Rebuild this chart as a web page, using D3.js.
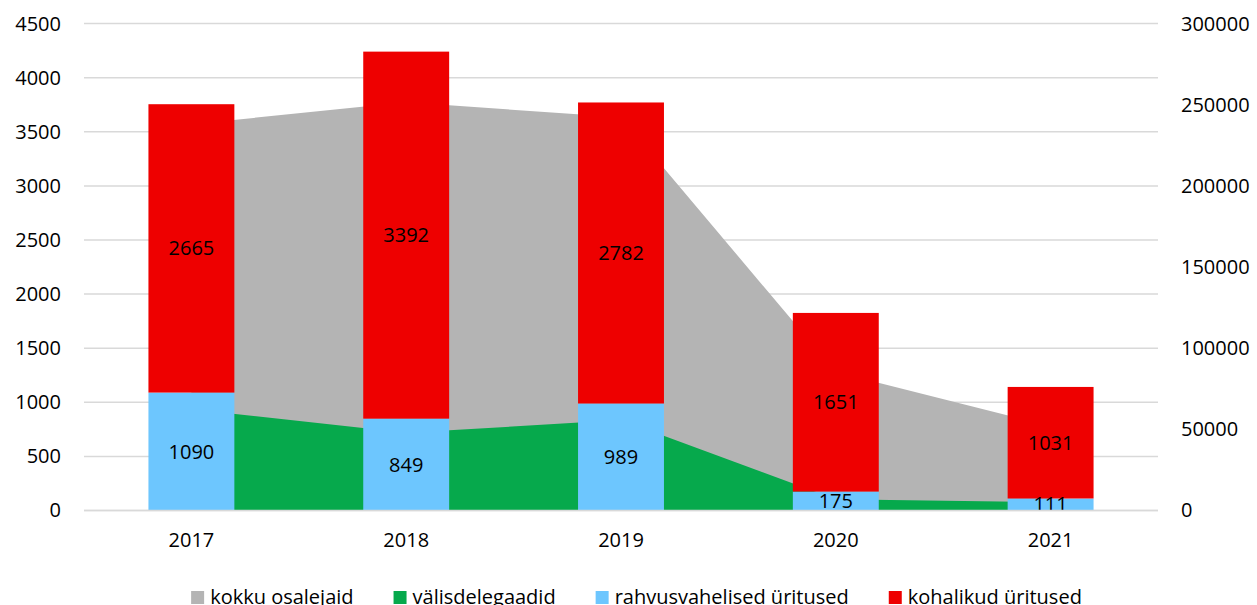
<!DOCTYPE html>
<html>
<head>
<meta charset="utf-8">
<script src="https://cdn.jsdelivr.net/npm/d3@7"></script>
<style>
  body { margin: 0; background: #fff; }
  text { font-family: "Open Sans", Lato, sans-serif; fill: #000; }
</style>
</head>
<body>
<script>
// data
var years = ["2017", "2018", "2019", "2020", "2021"];
var kokkuOsalejaid = [238000, 251500, 242300, 85300, 52000];   // right axis
var valisdelegaadid = [62400, 47900, 55700, 7000, 5100];         // right axis
var rahvusvahelised = [1090, 849, 989, 175, 111];               // left axis
var kohalikud = [2665, 3392, 2782, 1651, 1031];                 // left axis
var leftTicks = [0, 500, 1000, 1500, 2000, 2500, 3000, 3500, 4000, 4500];
var rightTicks = [0, 50000, 100000, 150000, 200000, 250000, 300000];
var legendNames = ["kokku osalejaid", "välisdelegaadid", "rahvusvahelised üritused", "kohalikud üritused"];
var colors = ["#b4b4b4", "#06a94c", "#6dc6fe", "#ee0000"];

var W = 1257, H = 605;
var plotLeft = 84, plotRight = 1158, plotTop = 23.6, plotBottom = 510.5;
var fontFam = "'Open Sans', Lato, sans-serif";

var svg = d3.select("body").append("svg")
	.attr("width", W)
	.attr("height", H);

var x = d3.scaleBand().domain(years).range([plotLeft, plotRight]).padding(0);
var yL = d3.scaleLinear().domain([0, 4500]).range([plotBottom, plotTop]);
var yR = d3.scaleLinear().domain([0, 300000]).range([plotBottom, plotTop]);
var barW = x.bandwidth() * 0.4;
var cx = function(d, i) { return x(years[i]) + x.bandwidth() / 2; };

// gridlines
svg.append("g")
	.selectAll("line")
	.data(leftTicks)
	.enter().append("line")
	.attr("x1", plotLeft)
	.attr("x2", plotRight)
	.attr("y1", function(d) { return yL(d); })
	.attr("y2", function(d) { return yL(d); })
	.style("stroke", "#d9d9d9")
	.style("stroke-width", 1.5);

// areas (right axis)
var area = d3.area()
	.x(cx)
	.y0(plotBottom)
	.y1(function(d) { return yR(d); });

svg.append("path")
	.datum(kokkuOsalejaid)
	.attr("d", area)
	.attr("fill", colors[0]);

svg.append("path")
	.datum(valisdelegaadid)
	.attr("d", area)
	.attr("fill", colors[1]);

// stacked bars (left axis)
var segs = [];
years.forEach(function(y, i) {
	segs.push({ y0: 0, y1: rahvusvahelised[i], v: rahvusvahelised[i], c: colors[2], yr: y });
	segs.push({ y0: rahvusvahelised[i], y1: rahvusvahelised[i] + kohalikud[i], v: kohalikud[i], c: colors[3], yr: y });
});

svg.append("g")
	.selectAll("rect")
	.data(segs)
	.enter().append("rect")
	.attr("x", function(d) { return x(d.yr) + (x.bandwidth() - barW) / 2; })
	.attr("y", function(d) { return yL(d.y1); })
	.attr("width", barW)
	.attr("height", function(d) { return yL(d.y0) - yL(d.y1); })
	.attr("fill", function(d) { return d.c; });

svg.append("g")
	.selectAll("text")
	.data(segs)
	.enter().append("text")
	.attr("x", function(d) { return x(d.yr) + x.bandwidth() / 2; })
	.attr("y", function(d) { return (yL(d.y0) + yL(d.y1)) / 2; })
	.attr("dy", ".35em")
	.style("font-size", "20px")
	.style("text-anchor", "middle")
	.text(function(d) { return d.v; });

// axes
var axL = svg.append("g")
	.attr("transform", "translate(" + plotLeft + ",0)")
	.call(d3.axisLeft(yL).tickValues(leftTicks).tickSize(0).tickPadding(23).tickFormat(d3.format("d")));
var axR = svg.append("g")
	.attr("transform", "translate(" + plotRight + ",0)")
	.call(d3.axisRight(yR).tickValues(rightTicks).tickSize(0).tickPadding(23).tickFormat(d3.format("d")));
var axB = svg.append("g")
	.attr("transform", "translate(0," + plotBottom + ")")
	.call(d3.axisBottom(x).tickSize(0).tickPadding(22));

[axL, axR, axB].forEach(function(a) {
	a.select(".domain").remove();
	a.selectAll("text")
		.style("font-family", fontFam)
		.style("font-size", "20px")
		.attr("fill", "#000");
});

svg.append("line")
	.attr("x1", plotLeft)
	.attr("x2", plotRight)
	.attr("y1", plotBottom)
	.attr("y2", plotBottom)
	.style("stroke", "#d9d9d9")
	.style("stroke-width", 1.5);

// legend
var items = svg.append("g")
	.selectAll("g")
	.data(legendNames)
	.enter().append("g");
items.append("rect")
	.attr("width", 13)
	.attr("height", 13)
	.attr("y", 591)
	.attr("fill", function(d, i) { return colors[i]; });
items.append("text")
	.attr("x", 19)
	.attr("y", 597)
	.attr("dy", ".35em")
	.style("font-size", "20px")
	.text(function(d) { return d; });

var pos = 0, gap = 40, offsets = [];
items.each(function(d, i) {
	offsets.push(pos);
	pos += 19 + this.querySelector("text").getComputedTextLength() + gap;
});
var start = 636.5 - (pos - gap) / 2;
items.attr("transform", function(d, i) { return "translate(" + (start + offsets[i]) + ",0)"; });
</script>
</body>
</html>
